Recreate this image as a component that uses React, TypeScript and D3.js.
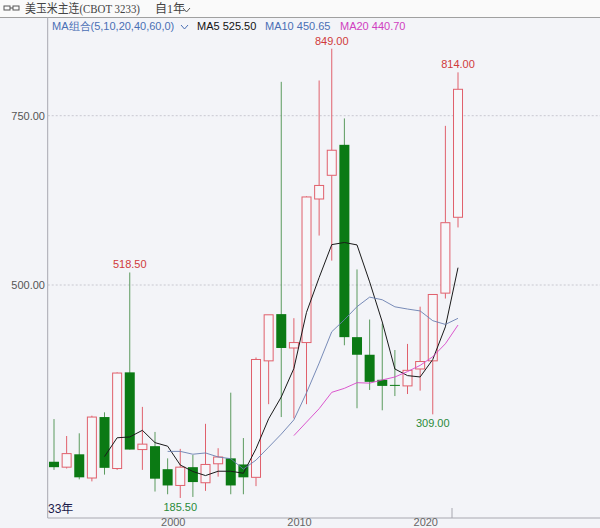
import React from "react";
import * as d3 from "d3";

const years = [1990,1991,1992,1993,1994,1995,1996,1997,1998,1999,2000,2001,2002,2003,2004,2005,2006,2007,2008,2009,2010,2011,2012,2013,2014,2015,2016,2017,2018,2019,2020,2021,2022];
const opens = [239,231,250,215,305,229,371,257,262,228,204,231,208,236,244,235,216,388,457,407,415,627,662,707,423,397,360,352.5,351,376,388,488,600];
const highs = [302,277,281,307,312,371,518.5,320,283,244,258,249,295,259,341,274,393,456,800,451,631,802,849,746,523,449,443,404,413,468,486,735,814];
const lows = [227,229,213,210,220,227,257,227,195,191,185.5,187,196,217,191,191,203,324,305,303,324,573,536,411,318,345,315,336,339,344,309,480,585];
const closes = [231,251,216,305,230,370,257,265,214,204,231,209,235,246,204,216,390,456,407,415,630,647,699,423,397,357,351,352,374,387,486,592,789];

const maPeriods = [5, 10, 20];
const maNames = ["MA5", "MA10", "MA20"];
const maLegendValues = [525.5, 450.65, 440.7];
const maColors = ["#1a1a1a", "#6a7fb0", "#d845c8"];
const maTextColors = ["#111111", "#4a6fb5", "#d040c0"];
const maLegendX = [197, 265, 340];
const yTicks = [500, 750];
const xTickYears = [2000, 2010, 2020];
const highLabels = [{ i: 6, v: "518.50" }, { i: 22, v: "849.00" }, { i: 32, v: "814.00" }];
const lowLabels = [{ i: 10, v: "185.50" }, { i: 30, v: "309.00" }];

const UP = "#e0606c";
const DOWN = "#0b7a14";
const DOWN_WICK = "#5b9a5e";

export default function App() {
  const W = 600, H = 528;
  const left = 47.7;
  const step = 12.625;
  const x = d3.scaleBand<number>().domain(years).range([left, left + step * years.length]).padding(0);
  const cx = (i: number) => (x(years[i]) as number) + x.bandwidth() / 2;
  const y = d3.scaleLinear().domain([500, 750]).range([285, 115.7]);
  const bw = 10;

  const maSeries = maPeriods.map((p) => {
    const pts: [number, number][] = [];
    for (let i = p - 1; i < closes.length; i++) {
      const m = d3.mean(closes.slice(i - p + 1, i + 1)) as number;
      pts.push([cx(i), y(m)]);
    }
    return pts;
  });
  const line = d3.line();

  const font = "'Liberation Sans', Arial, sans-serif";
  const serif = "'Liberation Serif', 'Noto Sans CJK SC', serif";

  return (
    <svg width={W} height={H} style={{ position: "absolute", left: 0, top: 0, background: "#f3f4f8" }}>
      <rect x={0} y={0} width={W} height={17} fill="#fafafa" />
      <line x1={0} x2={W} y1={17.5} y2={17.5} stroke="#a0a0a0" />
      {/* header icon */}
      <rect x={4} y={6} width={6} height={4} fill="none" stroke="#555" />
      <rect x={13} y={6} width={6} height={4} fill="none" stroke="#555" />
      <line x1={10} x2={13} y1={8} y2={8} stroke="#555" />
      <text x={25} y={13} fontSize={12} fill="#444" fontFamily={serif} textLength={115} lengthAdjust="spacingAndGlyphs">
        美玉米主连(CBOT 3233)
      </text>
      <text x={155} y={13} fontSize={12} fill="#444" fontFamily={serif}>自1年</text>
      <path d="M183,8 L186.5,12 L190,8" fill="none" stroke="#555" />

      {/* MA legend */}
      <text x={52} y={30} fontSize={11} fill="#4a6fb5" fontFamily={font}>MA组合(5,10,20,40,60,0)</text>
      <path d="M181,25 L184.5,29 L188,25" fill="none" stroke="#4a6fb5" />
      {maNames.map((n, k) => (
        <text key={n} x={maLegendX[k]} y={30} fontSize={11} fill={maTextColors[k]} fontFamily={font}>{n} {maLegendValues[k].toFixed(2)}</text>
      ))}

      {/* axes */}
      <line x1={left} x2={left} y1={17} y2={518} stroke="#a8a8b0" />
      <line x1={left} x2={W} y1={518} y2={518} stroke="#a8a8b0" />
      <line x1={452} x2={452} y1={508} y2={518} stroke="#a8a8b0" />
      {yTicks.map((t) => (
        <g key={t}>
          <line x1={left} x2={W} y1={y(t)} y2={y(t)} stroke="#c8c8d0" strokeDasharray="2,2" />
          <text x={45} y={y(t) + 4} fontSize={11} textAnchor="end" fill="#555" fontFamily={font}>{t.toFixed(2)}</text>
        </g>
      ))}
      {xTickYears.map((yr) => (
        <text key={yr} x={cx(years.indexOf(yr)) - 7} y={526} fontSize={11} textAnchor="middle" fill="#666" fontFamily={font}>{yr}</text>
      ))}
      <text x={48} y={513} fontSize={12} fill="#1a1a4a" fontFamily={font}>33<tspan fontFamily={serif}>年</tspan></text>

      {/* candles */}
      {years.map((yr, i) => {
        const o = opens[i], c = closes[i], h = highs[i], l = lows[i];
        const up = c > o;
        const top = y(Math.max(o, c));
        const bot = y(Math.min(o, c));
        const xc = cx(i);
        const bh = Math.max(1, bot - top);
        if (up) {
          return (
            <g key={yr}>
              <line x1={xc} x2={xc} y1={y(h)} y2={top} stroke={UP} />
              <line x1={xc} x2={xc} y1={bot} y2={y(l)} stroke={UP} />
              <rect x={xc - bw / 2 + 0.5} y={top} width={bw - 1} height={bh} fill="#f7f7fa" stroke={UP} />
            </g>
          );
        }
        return (
          <g key={yr}>
            <line x1={xc} x2={xc} y1={y(h)} y2={y(l)} stroke={DOWN_WICK} />
            <rect x={xc - bw / 2} y={top} width={bw} height={bh} fill={DOWN} />
          </g>
        );
      })}

      {/* MA lines */}
      {maSeries.map((pts, k) => (
        <path key={k} d={line(pts) as string} fill="none" stroke={maColors[k]} strokeWidth={k === 0 ? 1 : 0.9} />
      ))}

      {/* extreme labels */}
      {highLabels.map((d) => (
        <text key={d.v} x={cx(d.i)} y={y(highs[d.i]) - 4} fontSize={11} textAnchor="middle" fill="#d03a3a" fontFamily={font}>{d.v}</text>
      ))}
      {lowLabels.map((d) => (
        <text key={d.v} x={cx(d.i)} y={y(lows[d.i]) + 13} fontSize={11} textAnchor="middle" fill="#2a8a3a" fontFamily={font}>{d.v}</text>
      ))}
    </svg>
  );
}
